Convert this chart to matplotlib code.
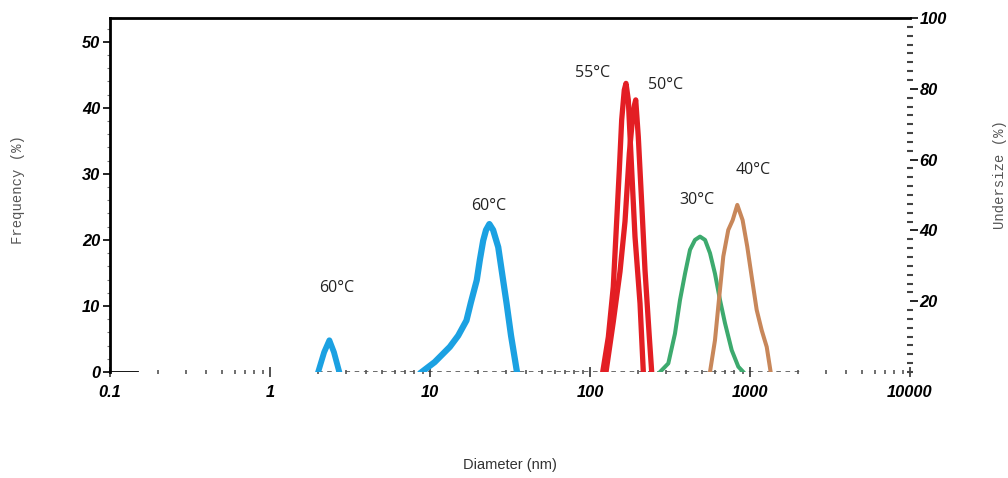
import matplotlib
matplotlib.use("Agg")
import matplotlib.pyplot as plt
from matplotlib.ticker import FixedLocator, LogLocator, NullFormatter, MultipleLocator

# ---- data (diameter nm, frequency %) ----
blue1_x = [2.00, 2.18, 2.35, 2.51, 2.71]
blue1_y = [0.0, 3.0, 4.8, 3.0, 0.0]

blue2_x = [8.88, 10.7, 13.3, 15.0, 16.9, 18.0, 19.6, 20.5, 21.5, 22.4, 23.5, 24.8, 26.7, 28.2, 30.1, 32.1, 34.8]
blue2_y = [0.0, 1.5, 3.8, 5.5, 7.8, 10.5, 13.9, 17.0, 19.9, 21.5, 22.4, 21.5, 18.9, 15.0, 10.4, 5.5, 0.3]

red55_x = [120.1, 130.2, 139.8, 146.9, 152.5, 157.8, 163.8, 167.9, 173.5, 182.2, 191.1, 205.4, 215.4]
red55_y = [0.0, 5.3, 12.9, 23.0, 30.6, 38.2, 42.7, 43.7, 41.2, 30.6, 20.5, 10.4, 0.0]

red50_x = [125.9, 139.8, 154.0, 165.5, 176.1, 186.5, 193.1, 200.4, 210.5, 220.7, 234.8, 243.0]
red50_y = [0.0, 7.6, 15.2, 22.8, 33.1, 39.7, 41.2, 35.6, 25.5, 15.4, 5.3, 0.0]

green_x = [273.8, 308.6, 339.6, 365.2, 392.6, 421.7, 453.2, 487, 523.6, 562.3, 604, 649.4, 697.7, 768.7, 845.5, 908]
green_y = [0.0, 1.3, 5.8, 10.9, 14.9, 18.5, 20.0, 20.5, 20.0, 18.0, 14.9, 10.9, 7.4, 3.3, 0.8, 0.0]

brown_x = [562.3, 604, 633.4, 681, 731.3, 779.6, 833, 899, 961, 1025, 1101, 1184, 1272, 1346]
brown_y = [0.0, 4.8, 9.9, 17.5, 21.5, 23.0, 25.3, 23.0, 19.0, 14.4, 9.4, 6.3, 3.8, 0.0]

black_x = [0.1, 0.148]
black_y = [0.0, 0.0]

baseline_x = [2.0, 2140]
baseline_y = [0.0, 0.0]

x_ticks = [0.1, 1, 10, 100, 1000, 10000]
x_ticklabels = ["0.1", "1", "10", "100", "1000", "10000"]
left_ticks = [0, 10, 20, 30, 40, 50]
right_ticks = [20, 40, 60, 80, 100]

labels = ["60°C", "60°C", "55°C", "50°C", "30°C", "40°C"]
label_x = [2.62, 23.4, 104, 298, 468, 1044]
label_y = [12.7, 25.2, 45.3, 43.5, 26.1, 30.6]

# ---- figure ----
fig = plt.figure(figsize=(10.08, 4.78), dpi=100)
ax = fig.add_axes([110 / 1008, 1 - 372 / 478, 800 / 1008, 354 / 478])
ax.set_xscale("log")
ax.set_xlim(0.1, 10000)
ax.set_ylim(0, 53.6)

tickfont = dict(family="Liberation Sans", weight="bold", style="italic", size=11.8)

ax.plot(baseline_x, baseline_y, color="#444444", lw=1.1, ls=(0, (3, 3)), zorder=1)
ax.plot(black_x, black_y, color="black", lw=2.0, zorder=3)
ax.plot(blue1_x, blue1_y, color="#1ba1e2", lw=4.2, solid_joinstyle="round", zorder=2)
ax.plot(blue2_x, blue2_y, color="#1ba1e2", lw=4.5, solid_joinstyle="round", zorder=2)
ax.plot(red55_x, red55_y, color="#e31e24", lw=3.8, zorder=2)
ax.plot(red50_x, red50_y, color="#e31e24", lw=3.8, zorder=2)
ax.plot(green_x, green_y, color="#3daa6e", lw=2.9, zorder=2)
ax.plot(brown_x, brown_y, color="#c8875a", lw=2.9, zorder=2)

for t, lx, ly in zip(labels, label_x, label_y):
    ax.text(lx, ly, t, ha="center", va="center", fontsize=11.5,
            family="Open Sans", color="#222222")

# spines
ax.spines["bottom"].set_visible(False)
ax.spines["right"].set_visible(False)
ax.spines["left"].set_linewidth(2.0)
ax.spines["top"].set_linewidth(2.0)

ax.xaxis.set_major_locator(FixedLocator(x_ticks))
ax.set_xticklabels(x_ticklabels, fontdict=tickfont)
ax.xaxis.set_minor_locator(LogLocator(base=10, subs=[2, 3, 4, 5, 6, 7, 8, 9], numticks=20))
ax.xaxis.set_minor_formatter(NullFormatter())
ax.tick_params(axis="x", which="major", direction="inout", length=7, width=1.2, pad=6, color="#333333")
ax.tick_params(axis="x", which="minor", direction="inout", length=3, width=1.2, color="#555555")

ax.yaxis.set_major_locator(FixedLocator(left_ticks))
ax.set_yticklabels([str(v) for v in left_ticks], fontdict=tickfont)
ax.yaxis.set_minor_locator(MultipleLocator(2))
ax.tick_params(axis="y", which="major", direction="out", length=5, width=1.2, pad=2)
ax.tick_params(axis="y", which="minor", direction="out", length=2, width=0.8, color="#777777")

ax2 = ax.twinx()
ax2.set_ylim(0, 100)
for s in ["left", "right", "bottom", "top"]:
    ax2.spines[s].set_visible(False)
ax2.yaxis.set_major_locator(FixedLocator(right_ticks))
ax2.set_yticklabels([str(v) for v in right_ticks], fontdict=tickfont)
ax2.yaxis.set_minor_locator(MultipleLocator(2.5))
ax2.tick_params(axis="y", which="major", direction="out", length=6, width=1.2, pad=1)
ax2.tick_params(axis="y", which="minor", direction="inout", length=4, width=1.5, color="#444444")

fig.text(18 / 1008, 1 - 190 / 478, "Frequency (%)", rotation=90, ha="center", va="center",
         family="Liberation Mono", fontsize=10, color="#555555")
fig.text(1000 / 1008, 1 - 175 / 478, "Undersize (%)", rotation=90, ha="center", va="center",
         family="Liberation Mono", fontsize=10, color="#555555")
fig.text(510 / 1008, 1 - 465 / 478, "Diameter (nm)", ha="center", va="center",
         family="Liberation Sans", fontsize=10.5, color="#333333")

fig.savefig("out.png", dpi=100, facecolor="white")
